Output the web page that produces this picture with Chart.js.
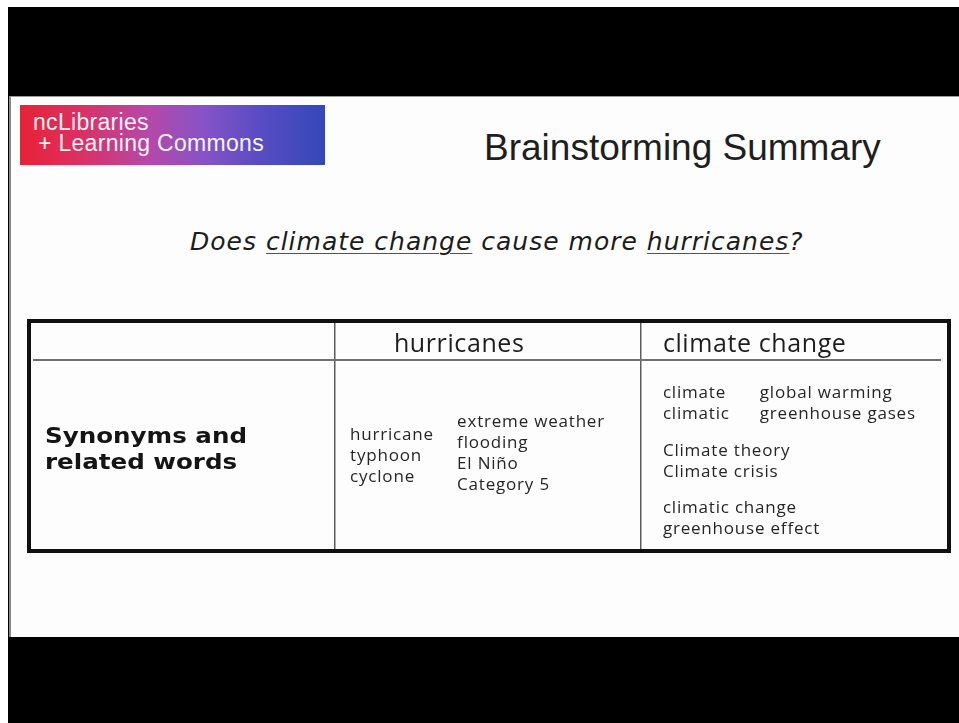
<!DOCTYPE html>
<html>
<head>
<meta charset="utf-8">
<script src="https://cdn.jsdelivr.net/npm/chart.js@4.4.1/dist/chart.umd.min.js"></script>
<style>
  html, body { margin:0; padding:0; background:#fff; }
  body { width:959px; height:723px; position:relative; overflow:hidden; }
  #frame { position:absolute; left:8px; top:7px; right:0; bottom:0; background:#000; }
  #slide { position:absolute; left:9px; top:96px; width:950px; height:541px; background:#fdfdfd;
           border-left:2px solid #8a8a8a; border-top:1px solid #9a9a9a; box-sizing:border-box; }
  #logo { position:absolute; left:20px; top:105px; width:305px; height:60px;
          background:linear-gradient(90deg,#e82236 0%,#dc3064 20%,#b648a8 42%,#8753c6 60%,#5a4cc4 78%,#3448b6 100%); }
  .logoText { position:absolute; color:#fff; font-family:"Liberation Sans",Arial,sans-serif; font-size:23px;
              line-height:21px; white-space:nowrap; opacity:0.95; letter-spacing:0.3px; }
  #title { position:absolute; left:484px; top:129px; font-family:"Liberation Sans",Arial,sans-serif;
           font-size:37px; line-height:37px; color:#1e1e1e; white-space:nowrap; }
  #question { position:absolute; left:190px; top:229px; font-family:"DejaVu Sans",Verdana,sans-serif;
              font-style:italic; font-size:25px; line-height:25px; letter-spacing:1px; color:#1c1c1c; white-space:nowrap; }
  #question u { text-decoration-color:#555; text-underline-offset:3px; text-decoration-thickness:1px; }
  #chart { position:absolute; left:0; top:0; }
</style>
</head>
<body>
<div id="frame"></div>
<div id="slide"></div>
<div id="logo"></div>
<div class="logoText" style="left:33px;top:112px;">ncLibraries</div>
<div class="logoText" style="left:38px;top:133px;">+ Learning Commons</div>
<div id="title">Brainstorming Summary</div>
<div id="question">Does <u>climate change</u> cause more <u>hurricanes</u>?</div>
<canvas id="chart" width="959" height="723"></canvas>
<script>
// ---- table content (the "data") ----
const columnHeaders = ["", "hurricanes", "climate change"];
const rowLabelLines = ["Synonyms and", "related words"];
const hurricaneTerms = ["hurricane", "typhoon", "cyclone"];
const hurricaneRelated = ["extreme weather", "flooding", "El Niño", "Category 5"];
const climateTerms = ["climate", "climatic"];
const climateWarming = ["global warming", "greenhouse gases"];
const climateTheory = ["Climate theory", "Climate crisis"];
const climateEffects = ["climatic change", "greenhouse effect"];

// ---- layout (scale units: x = column index, y = text line index) ----
const layout = {
  headerBaseline: 1.51,
  headerRule: 1.9,
  lineStep: 1.0,
  label: { x: 0.052, y: 5.95, step: 1.27 },
  headerX: [0, 1.19, 2.067],
  hurrA: { x: 1.047, y: 5.80, step: 1.02 },
  hurrB: { x: 1.396, y: 5.17, step: 1.02 },
  climA: { x: 2.067, y: 3.76 },
  climB: { x: 2.383, y: 3.76 },
  climC: { x: 2.067, y: 6.59 },
  climD: { x: 2.067, y: 9.37 }
};

const tablePlugin = {
  id: 'slideTable',
  afterDraw(chart) {
    const { ctx, chartArea: a, scales: { x, y } } = chart;
    ctx.save();
    const line = (x1, y1, x2, y2) => { ctx.beginPath(); ctx.moveTo(x1, y1); ctx.lineTo(x2, y2); ctx.stroke(); };

    // column dividers
    ctx.strokeStyle = '#5c5c5c'; ctx.lineWidth = 1.5;
    for (let c = 1; c < columnHeaders.length; c++) {
      const px = Math.round(x.getPixelForValue(c)) - 1.25;
      line(px, a.top, px, a.bottom);
    }
    // header rule
    ctx.strokeStyle = '#707070'; ctx.lineWidth = 2;
    const hy = y.getPixelForValue(layout.headerRule);
    line(a.left + 4, hy, a.right - 8, hy);
    // outer border
    ctx.strokeStyle = '#111'; ctx.lineWidth = 4;
    ctx.strokeRect(a.left, a.top, a.right - a.left, a.bottom - a.top);

    ctx.textBaseline = 'alphabetic';
    ctx.textAlign = 'left';

    // headers
    ctx.fillStyle = '#1e1e1e';
    ctx.font = '25px "Open Sans", sans-serif';
    ctx.letterSpacing = '0.6px';
    columnHeaders.forEach((h, i) => {
      if (h) ctx.fillText(h, x.getPixelForValue(layout.headerX[i]), y.getPixelForValue(layout.headerBaseline));
    });

    // row label (bold, wide)
    ctx.fillStyle = '#141414';
    ctx.font = 'bold 21px "DejaVu Sans", sans-serif';
    ctx.letterSpacing = '0px';
    rowLabelLines.forEach((t, i) => {
      const px = x.getPixelForValue(layout.label.x);
      const py = y.getPixelForValue(layout.label.y + i * layout.label.step);
      ctx.save(); ctx.translate(px, py); ctx.scale(1.17, 1); ctx.fillText(t, 0, 0); ctx.restore();
    });

    // body terms
    ctx.fillStyle = '#262626';
    ctx.font = '500 17px "Open Sans", sans-serif';
    ctx.letterSpacing = '0.8px';
    const block = (arr, pos, step) => arr.forEach((t, i) =>
      ctx.fillText(t, x.getPixelForValue(pos.x), y.getPixelForValue(pos.y + i * step)));
    block(hurricaneTerms, layout.hurrA, layout.hurrA.step);
    block(hurricaneRelated, layout.hurrB, layout.hurrB.step);
    block(climateTerms, layout.climA, layout.lineStep);
    block(climateWarming, layout.climB, layout.lineStep);
    block(climateTheory, layout.climC, layout.lineStep);
    block(climateEffects, layout.climD, layout.lineStep);
    ctx.restore();
  }
};

new Chart(document.getElementById('chart'), {
  type: 'scatter',
  data: { datasets: [] },
  options: {
    responsive: false,
    animation: false,
    devicePixelRatio: 1,
    events: [],
    layout: { padding: { left: 29, top: 321, right: 10, bottom: 172 } },
    plugins: { legend: { display: false }, tooltip: { enabled: false } },
    scales: {
      x: { type: 'linear', min: 0, max: 3, display: false },
      y: { type: 'linear', min: 0, max: 11.2, reverse: true, display: false }
    }
  },
  plugins: [tablePlugin]
});
</script>
</body>
</html>
